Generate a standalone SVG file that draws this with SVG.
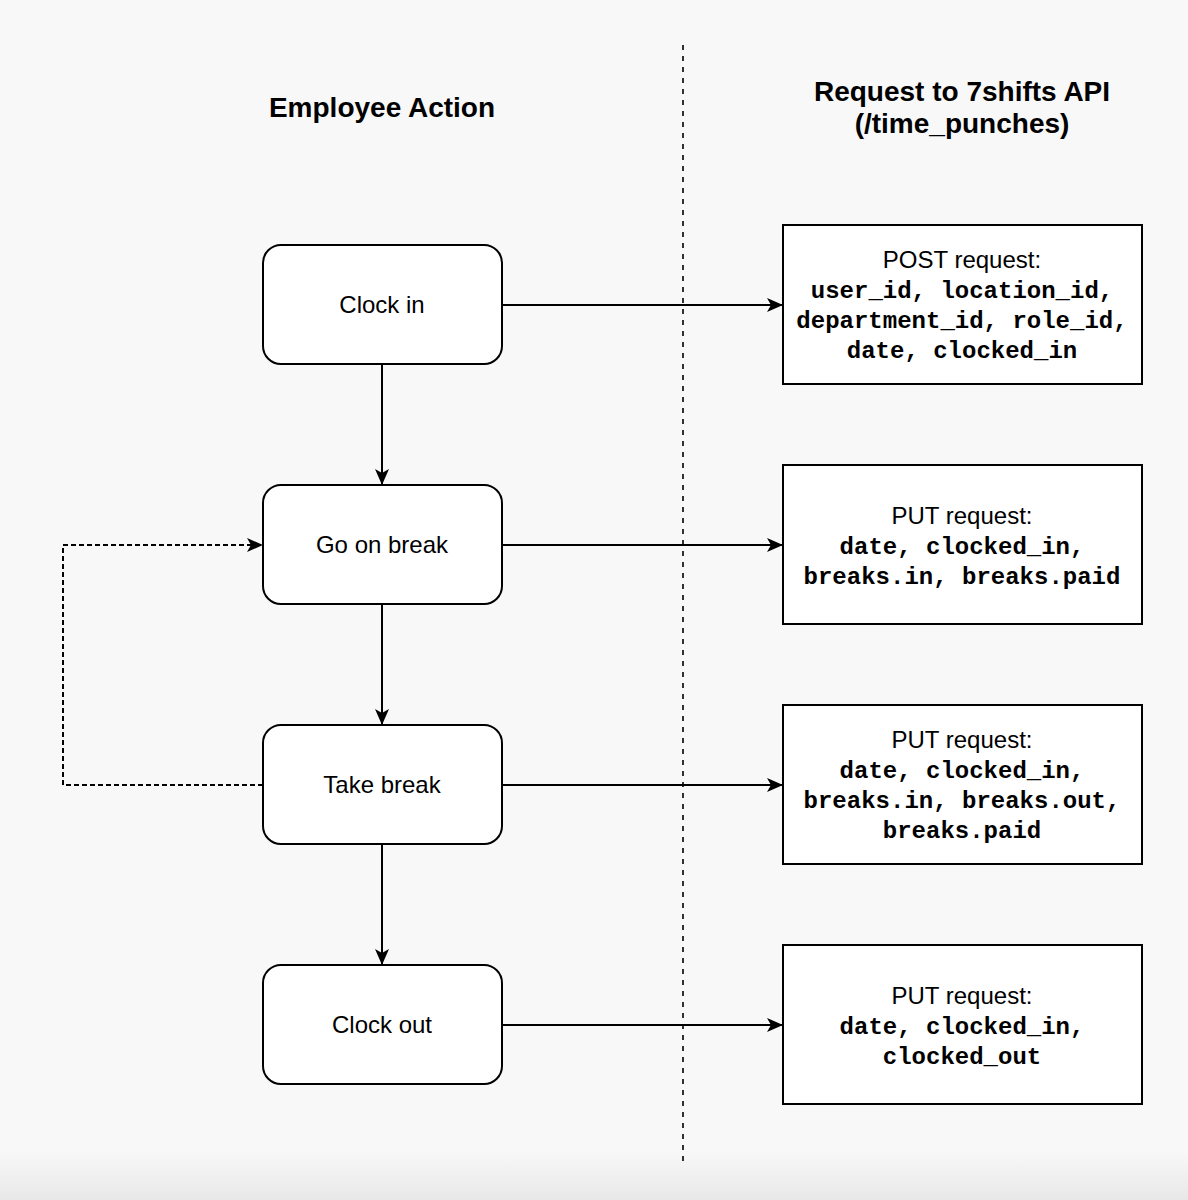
<svg xmlns="http://www.w3.org/2000/svg" width="1188" height="1200" viewBox="0 0 1188 1200">
<defs>
<linearGradient id="shade" x1="0" y1="0" x2="0" y2="1">
<stop offset="0" stop-color="#f8f8f8"/>
<stop offset="1" stop-color="#e8e8e8"/>
</linearGradient>
<marker id="arr" markerUnits="userSpaceOnUse" markerWidth="18" markerHeight="16" refX="17" refY="8" orient="auto">
<path d="M1,1 L17,8 L1,15 L5,8 Z" fill="#000"/>
</marker>
<style>
.box{fill:#fff;stroke:#000;stroke-width:2}
.lbl{font-family:"Liberation Sans",Arial,Helvetica,sans-serif;font-size:24px;fill:#000;text-anchor:middle}
.mono{font-family:"Liberation Mono","Courier New",monospace;font-size:24px;font-weight:bold;fill:#000;text-anchor:middle}
.title{font-family:"Liberation Sans",Arial,Helvetica,sans-serif;font-size:28px;font-weight:bold;fill:#000;text-anchor:middle}
.edge{fill:none;stroke:#000;stroke-width:2}
.dash{fill:none;stroke:#000;stroke-width:2;stroke-dasharray:5 3}
</style>
</defs>
<rect x="0" y="0" width="1188" height="1200" fill="#f8f8f8"/>
<rect x="0" y="1150" width="1188" height="50" fill="url(#shade)"/>

<g id="divider">
<line x1="683" y1="45" x2="683" y2="1165" class="dash" style="stroke-width:1.6;stroke-dasharray:5 6"/>
</g>

<g id="title-left">
<text class="title" x="382" y="117">Employee Action</text>
</g>
<g id="title-right">
<text class="title" x="962" y="101">Request to 7shifts API</text>
<text class="title" x="962" y="133">(/time_punches)</text>
</g>

<g id="connectors">
<line class="edge" x1="382" y1="365" x2="382" y2="485" marker-end="url(#arr)"/>
<line class="edge" x1="382" y1="605" x2="382" y2="725" marker-end="url(#arr)"/>
<line class="edge" x1="382" y1="845" x2="382" y2="965" marker-end="url(#arr)"/>
<line class="edge" x1="503" y1="305" x2="783" y2="305" marker-end="url(#arr)"/>
<line class="edge" x1="503" y1="545" x2="783" y2="545" marker-end="url(#arr)"/>
<line class="edge" x1="503" y1="785" x2="783" y2="785" marker-end="url(#arr)"/>
<line class="edge" x1="503" y1="1025" x2="783" y2="1025" marker-end="url(#arr)"/>
<path class="dash" d="M263,785 L63,785 L63,545 L263,545" marker-end="url(#arr)"/>
</g>

<g id="clock-in">
<rect class="box" x="263" y="245" width="239" height="119" rx="18"/>
<text class="lbl" x="382" y="313">Clock in</text>
</g>
<g id="go-on-break">
<rect class="box" x="263" y="485" width="239" height="119" rx="18"/>
<text class="lbl" x="382" y="553">Go on break</text>
</g>
<g id="take-break">
<rect class="box" x="263" y="725" width="239" height="119" rx="18"/>
<text class="lbl" x="382" y="793">Take break</text>
</g>
<g id="clock-out">
<rect class="box" x="263" y="965" width="239" height="119" rx="18"/>
<text class="lbl" x="382" y="1033">Clock out</text>
</g>

<g id="post-request">
<rect class="box" x="783" y="225" width="359" height="159"/>
<text class="lbl" x="962" y="268">POST request:</text>
<text class="mono" x="962" y="298">user_id, location_id,</text>
<text class="mono" x="962" y="328">department_id, role_id,</text>
<text class="mono" x="962" y="358">date, clocked_in</text>
</g>
<g id="put-break-in">
<rect class="box" x="783" y="465" width="359" height="159"/>
<text class="lbl" x="962" y="524">PUT request:</text>
<text class="mono" x="962" y="554">date, clocked_in,</text>
<text class="mono" x="962" y="584">breaks.in, breaks.paid</text>
</g>
<g id="put-break-out">
<rect class="box" x="783" y="705" width="359" height="159"/>
<text class="lbl" x="962" y="748">PUT request:</text>
<text class="mono" x="962" y="778">date, clocked_in,</text>
<text class="mono" x="962" y="808">breaks.in, breaks.out,</text>
<text class="mono" x="962" y="838">breaks.paid</text>
</g>
<g id="put-clock-out">
<rect class="box" x="783" y="945" width="359" height="159"/>
<text class="lbl" x="962" y="1004">PUT request:</text>
<text class="mono" x="962" y="1034">date, clocked_in,</text>
<text class="mono" x="962" y="1064">clocked_out</text>
</g>
</svg>
